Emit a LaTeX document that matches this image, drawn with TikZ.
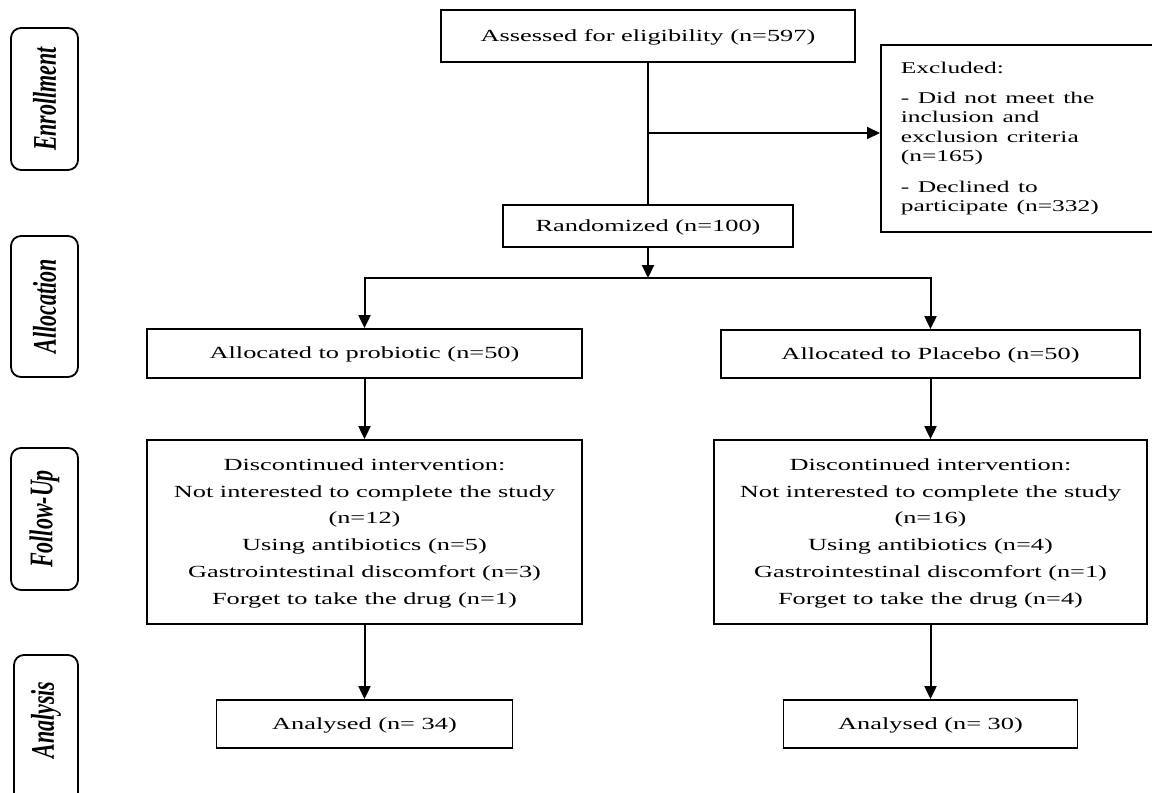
\documentclass[tikz,border=0pt]{standalone}
\usepackage{fontspec}
\setmainfont{Liberation Serif}
\usepackage{graphicx}
\usetikzlibrary{arrows.meta}

\newcommand{\wide}[2][c]{\scalebox{1.55}[1]{\begin{tabular}{@{}#1@{}}#2\end{tabular}}}
\newcommand{\tall}[1]{\scalebox{1}[1.5]{#1}}

\tikzset{
	stagebox/.style={draw, line width=0.9pt, inner sep=0pt, align=center,
		font=\fontsize{8.5}{13.4}\selectfont},
	phasebox/.style={draw, line width=0.9pt, rounded corners=5pt, rotate=90, inner sep=0pt,
		minimum height=33.5pt, font=\fontsize{11}{13}\selectfont\bfseries\itshape},
	arr/.style={line width=1pt, -{Triangle[length=6.5pt,width=6pt]}},
	line/.style={line width=1pt}
}

\begin{document}
\begin{tikzpicture}[x=0.5pt, y=-0.5pt]
			\useasboundingbox (0,0) rectangle (1152,793);
			\node[stagebox, minimum width=207pt, minimum height=26pt] (assess) at (648,36)
				{\wide{Assessed for eligibility (n=597)}};
			\node[stagebox, anchor=west, text width=125pt, inner xsep=10pt, minimum height=93.5pt,
				align=left, font=\fontsize{8.2}{9.7}\selectfont] (excl) at (880,138.5)
				{\wide[l]{Excluded:\\[5.5pt]
					- Did not meet the\\ inclusion and\\ exclusion criteria\\ (n=165)\\[5.5pt]
					- Declined to\\ participate (n=332)}};
			\node[stagebox, minimum width=145pt, minimum height=21pt] (rand) at (648,226)
				{\wide{Randomized (n=100)}};
			\node[stagebox, minimum width=217.5pt, minimum height=24.5pt] (allocP) at (364.5,353.5)
				{\wide{Allocated to probiotic (n=50)}};
			\node[stagebox, minimum width=209.5pt, minimum height=24pt] (allocC) at (930.5,354)
				{\wide{Allocated to Placebo (n=50)}};
			\node[stagebox, minimum width=217.5pt, minimum height=92pt] (fuP) at (364.5,532)
				{\wide{Discontinued intervention:\\ Not interested to complete the study\\ (n=12)\\
					Using antibiotics (n=5)\\ Gastrointestinal discomfort (n=3)\\ Forget to take the drug (n=1)}};
			\node[stagebox, minimum width=216.5pt, minimum height=92pt] (fuC) at (930.5,532)
				{\wide{Discontinued intervention:\\ Not interested to complete the study\\ (n=16)\\
					Using antibiotics (n=4)\\ Gastrointestinal discomfort (n=1)\\ Forget to take the drug (n=4)}};
			\node[stagebox, minimum width=148pt, minimum height=24pt] (anP) at (364.5,724)
				{\wide{Analysed (n= 34)}};
			\node[stagebox, minimum width=147pt, minimum height=24pt] (anC) at (930.5,724)
				{\wide{Analysed (n= 30)}};

			\node[phasebox, minimum width=71pt] (enroll) at (44.5,99) {\tall{Enrollment}};
			\node[phasebox, minimum width=70.5pt] (alloc) at (44.5,306.5) {\tall{Allocation}};
			\node[phasebox, minimum width=71pt] (follow) at (44.5,519) {\tall{Follow-Up}};
			\node[phasebox, minimum width=75pt, minimum height=32pt] (analys) at (46,730)
				{\hspace{10pt}\tall{Analysis}};

			\coordinate (split) at (648,133);
			\coordinate (fork) at (648,278);
			\draw[line] (assess.south) -- (rand.north);
			\draw[arr] (split) -- (split -| excl.west);
			\draw[arr] (rand.south) -- (fork);
			\draw[arr] (fork) -| (allocP.north);
			\draw[arr] (fork) -| (allocC.north);
			\draw[arr] (allocP.south) -- (fuP.north);
			\draw[arr] (allocC.south) -- (fuC.north);
			\draw[arr] (fuP.south) -- (anP.north);
			\draw[arr] (fuC.south) -- (anC.north);
			\end{tikzpicture}
\end{document}
